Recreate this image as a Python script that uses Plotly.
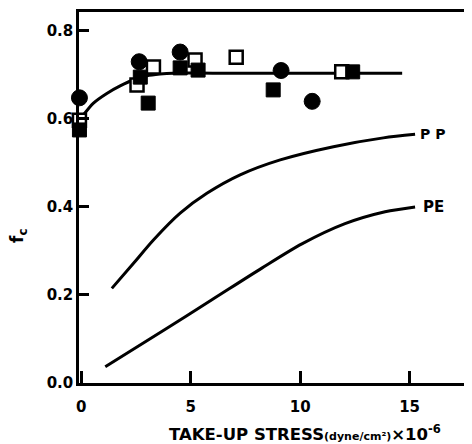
import plotly.graph_objects as go

# Data
circ_x = [-0.08, 2.65, 4.52, 9.13, 10.55]
circ_y = [0.648, 0.73, 0.752, 0.71, 0.64]

fsq_x = [-0.08, 2.7, 3.06, 4.52, 5.34, 8.77, 12.4]
fsq_y = [0.575, 0.695, 0.636, 0.716, 0.711, 0.666, 0.707]

osq_x = [-0.08, 2.55, 3.3, 5.2, 7.08, 11.9]
osq_y = [0.597, 0.677, 0.718, 0.734, 0.74, 0.707]

fit_x = [0.1, 0.56, 1.17, 1.78, 2.39, 3.0, 3.6, 4.2, 6.0, 9.0, 12.0, 14.66]
fit_y = [0.609, 0.636, 0.658, 0.675, 0.689, 0.698, 0.702, 0.704, 0.704, 0.704, 0.704, 0.704]

pp_x = [1.40, 2.39, 3.30, 4.52, 5.74, 7.26, 9.09, 11.52, 13.8, 15.25]
pp_y = [0.215, 0.272, 0.325, 0.386, 0.431, 0.473, 0.507, 0.537, 0.557, 0.565]

pe_x = [1.10, 3.68, 5.97, 8.25, 10.08, 12.05, 13.88, 15.25]
pe_y = [0.037, 0.117, 0.189, 0.261, 0.316, 0.362, 0.389, 0.40]

x_ticks = [0, 5, 10, 15]
y_ticks = [0.0, 0.2, 0.4, 0.6, 0.8]
y_ticklabels = ["0.0", "0.2", "0.4", "0.6", "0.8"]

FONT = "DejaVu Sans"

fig = go.Figure()
for xs, ys in [(fit_x, fit_y), (pp_x, pp_y), (pe_x, pe_y)]:
    fig.add_trace(go.Scatter(x=xs, y=ys, mode="lines",
                             line=dict(color="black", width=3, shape="spline", smoothing=0.8),
                             showlegend=False, hoverinfo="skip"))

fig.add_trace(go.Scatter(x=osq_x, y=osq_y, mode="markers", cliponaxis=False,
                         marker=dict(symbol="square", size=13, color="white", line=dict(color="black", width=2.5)),
                         showlegend=False))
fig.add_trace(go.Scatter(x=fsq_x, y=fsq_y, mode="markers", cliponaxis=False,
                         marker=dict(symbol="square", size=14, color="black", line=dict(color="black", width=1)),
                         showlegend=False))
fig.add_trace(go.Scatter(x=circ_x, y=circ_y, mode="markers", cliponaxis=False,
                         marker=dict(symbol="circle", size=16, color="black", line=dict(color="black", width=1)),
                         showlegend=False))

fig.add_annotation(x=pp_x[-1], y=pp_y[-1], xref="x", yref="y", text="<b>P P</b>", showarrow=False,
                   xanchor="left", xshift=3, font=dict(family=FONT, size=14, color="black"))
fig.add_annotation(x=pe_x[-1], y=pe_y[-1], xref="x", yref="y", text="<b>PE</b>", showarrow=False,
                   xanchor="left", xshift=6, font=dict(family=FONT, size=15, color="black"))

# page-pixel placed texts (page has an 8px body margin)
OFF = 8
W, H = 472 - OFF, 444 - OFF
l, r, t, b = 79 - OFF, 0, 12 - OFF, (H + OFF) - 383
pw, ph = W - l - r, H - t - b

def px2paper(px, py):
    return (px - OFF - l) / pw, 1 - (py - OFF - t) / ph

tx, ty = px2paper(305, 433)
fig.add_annotation(x=tx, y=ty, xref="paper", yref="paper", text=(
    "<b>TAKE-UP STRESS</b><span style='font-size:11px'><b>(dyne/cm²)</b></span><b>×10<sup>-6</sup></b>"),
    showarrow=False, xanchor="center", yanchor="middle", font=dict(family=FONT, size=16.5, color="black"))
fx, fy = px2paper(18, 236)
fig.add_annotation(x=fx, y=fy, xref="paper", yref="paper", text="<b>f<sub>c</sub></b>", showarrow=False,
                   textangle=-90, xanchor="center", yanchor="middle",
                   font=dict(family=FONT, size=17, color="black"))

fig.update_layout(
    width=W, height=H,
    margin=dict(l=l, r=r, t=t, b=b, autoexpand=False),
    paper_bgcolor="white", plot_bgcolor="white",
    showlegend=False,
    xaxis=dict(range=[-0.1, 17.85], tickvals=x_ticks, ticks="inside", ticklen=12, tickwidth=2.5,
               tickcolor="black", showline=True, linewidth=2.5, linecolor="black", mirror=True,
               showgrid=False, zeroline=False, ticklabelstandoff=8,
               tickfont=dict(family=FONT, size=15, color="black", weight="bold")),
    yaxis=dict(range=[0, 0.843], tickvals=y_ticks, ticktext=y_ticklabels, ticks="inside", ticklen=10,
               tickwidth=2.5, tickcolor="black", showline=True, linewidth=2.5, linecolor="black",
               showgrid=False, zeroline=False, ticklabelstandoff=0,
               tickfont=dict(family=FONT, size=15, color="black", weight="bold")),
)

fig.write_html("out.html")
